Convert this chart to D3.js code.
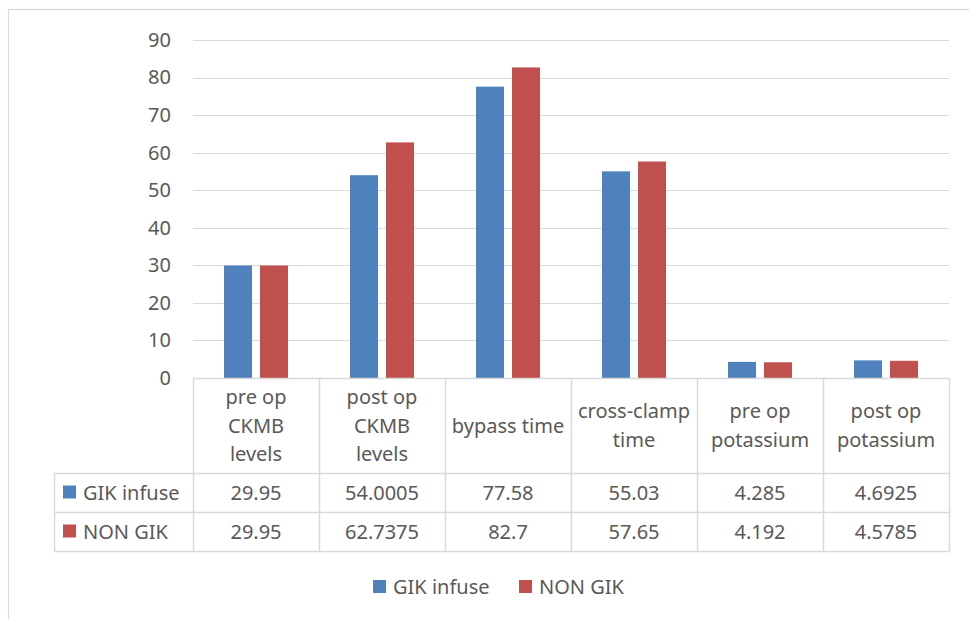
<!DOCTYPE html>
<html>
<head>
<meta charset="utf-8">
<script src="https://cdn.jsdelivr.net/npm/d3@7"></script>
<style>
  html, body { margin: 0; padding: 0; background: #fff; }
  svg { display: block; font-family: "Noto Sans", "Open Sans", sans-serif; }
</style>
</head>
<body>
<svg id="chart" width="969" height="619"></svg>
<script>
// Category labels (as wrapped lines in the data table header)
const categories = [
  "pre op CKMB levels",
  "post op CKMB levels",
  "bypass time",
  "cross-clamp time",
  "pre op potassium",
  "post op potassium"
];
const categoryLines = [
  ["pre op", "CKMB", "levels"],
  ["post op", "CKMB", "levels"],
  ["bypass time"],
  ["cross-clamp", "time"],
  ["pre op", "potassium"],
  ["post op", "potassium"]
];
const seriesNames = ["GIK infuse", "NON GIK"];
const gikInfuse = [29.95, 54.0005, 77.58, 55.03, 4.285, 4.6925];
const nonGik = [29.95, 62.7375, 82.7, 57.65, 4.192, 4.5785];
const yTicks = [0, 10, 20, 30, 40, 50, 60, 70, 80, 90];

const seriesValues = [gikInfuse, nonGik];
const colors = ["#4F81BD", "#C0504D"];
const textColor = "#595959";
const lineColor = "#D9D9D9";

const svg = d3.select("#chart");

// outer chart frame
svg.append("rect")
  .attr("x", 8.5).attr("y", 9.5)
  .attr("width", 1000).attr("height", 700)
  .attr("fill", "none").attr("stroke", lineColor).attr("stroke-width", 1.2);

const plot = { left: 193, right: 949, top: 40, bottom: 378 };

const x0 = d3.scaleBand().domain(categories).range([plot.left, plot.right]).padding(0);
const x1 = d3.scaleBand().domain(seriesNames)
  .range([31, x0.bandwidth() - 31]).paddingInner(0.222).paddingOuter(0);
const y = d3.scaleLinear().domain([0, 90]).range([plot.bottom, plot.top]);

// gridlines
svg.append("g").selectAll("line").data(yTicks.filter(d => d > 0)).join("line")
  .attr("x1", plot.left).attr("x2", plot.right)
  .attr("y1", d => Math.round(y(d)) + 0.5).attr("y2", d => Math.round(y(d)) + 0.5)
  .attr("stroke", lineColor).attr("stroke-width", 1.2);

// y-axis tick labels
const yAxis = d3.axisLeft(y).tickValues(yTicks).tickSize(0).tickPadding(0);
const gy = svg.append("g").attr("transform", `translate(171,0)`).call(yAxis);
gy.select(".domain").remove();
gy.selectAll("text")
  .attr("fill", textColor).attr("font-size", 20)
  .attr("font-family", '"Noto Sans", "Open Sans", sans-serif');

// bars
const groups = svg.append("g").selectAll("g").data(categories).join("g")
  .attr("transform", d => `translate(${x0(d)},0)`);
groups.selectAll("rect")
  .data((d, i) => seriesNames.map((s, j) => ({ s, v: seriesValues[j][i], c: colors[j] })))
  .join("rect")
  .attr("x", d => x1(d.s))
  .attr("width", x1.bandwidth())
  .attr("y", d => y(d.v))
  .attr("height", d => y(0) - y(d.v))
  .attr("fill", d => d.c);

// data table
const tbl = { top: 378, headerBottom: 473, row1Bottom: 512, bottom: 551, left: 54 };
const tg = svg.append("g");
const hline = (x1p, x2p, yy) => tg.append("line")
  .attr("x1", x1p).attr("x2", x2p).attr("y1", yy + 0.5).attr("y2", yy + 0.5)
  .attr("stroke", lineColor).attr("stroke-width", 1.5);
const vline = (xx, y1p, y2p) => tg.append("line")
  .attr("x1", xx + 0.5).attr("x2", xx + 0.5).attr("y1", y1p).attr("y2", y2p)
  .attr("stroke", lineColor).attr("stroke-width", 1.5);

hline(plot.left, plot.right, tbl.top);
hline(tbl.left, plot.right, tbl.headerBottom);
hline(tbl.left, plot.right, tbl.row1Bottom);
hline(tbl.left, plot.right, tbl.bottom);
vline(tbl.left, tbl.headerBottom, tbl.bottom + 0.5);
categories.forEach(c => vline(x0(c), tbl.top, tbl.bottom + 0.5));
vline(plot.right, tbl.top, tbl.bottom + 0.5);

// header text
const lineH = 28.5;
const headerMid = (tbl.top + tbl.headerBottom) / 2;
categories.forEach((c, i) => {
  const lines = categoryLines[i];
  const t = tg.append("text")
    .attr("x", x0(c) + x0.bandwidth() / 2)
    .attr("text-anchor", "middle")
    .attr("fill", textColor).attr("font-size", 20);
  lines.forEach((ln, k) => {
    t.append("tspan")
      .attr("x", x0(c) + x0.bandwidth() / 2)
      .attr("y", headerMid + (k - (lines.length - 1) / 2) * lineH)
      .attr("dy", "0.35em")
      .text(ln);
  });
});

// value rows
const rowMids = [(tbl.headerBottom + tbl.row1Bottom) / 2, (tbl.row1Bottom + tbl.bottom) / 2];
seriesNames.forEach((s, j) => {
  tg.append("rect")
    .attr("x", 63).attr("y", rowMids[j] - 7).attr("width", 13).attr("height", 13)
    .attr("fill", colors[j]);
  tg.append("text")
    .attr("x", 83).attr("y", rowMids[j]).attr("dy", "0.35em")
    .attr("fill", textColor).attr("font-size", 20).text(s);
  categories.forEach((c, i) => {
    tg.append("text")
      .attr("x", x0(c) + x0.bandwidth() / 2).attr("y", rowMids[j]).attr("dy", "0.35em")
      .attr("text-anchor", "middle")
      .attr("fill", textColor).attr("font-size", 20)
      .text(String(seriesValues[j][i]));
  });
});

// legend
const legendPos = [373, 519];
const lg = svg.append("g");
seriesNames.forEach((s, j) => {
  lg.append("rect")
    .attr("x", legendPos[j]).attr("y", 580).attr("width", 13).attr("height", 13)
    .attr("fill", colors[j]);
  lg.append("text")
    .attr("x", legendPos[j] + 20).attr("y", 586.5).attr("dy", "0.35em")
    .attr("fill", textColor).attr("font-size", 20).text(s);
});
</script>
</body>
</html>
